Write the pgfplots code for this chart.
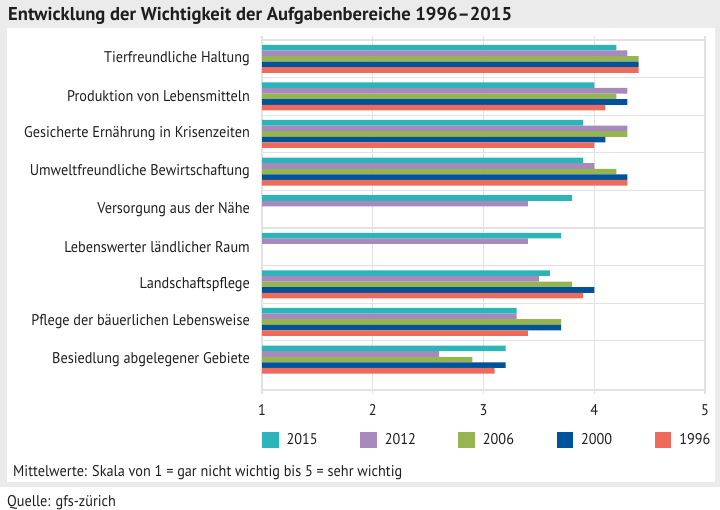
\documentclass[border=0pt]{standalone}
\usepackage{pgfplots}
\pgfplotsset{compat=1.18}
\usepackage{pgfplotstable}
\usepackage{fontspec}
\setmainfont{PT Sans}[FakeStretch=0.92]
\newfontfamily\titlefont{PT Sans Bold}

\definecolor{c2015}{RGB}{44,181,184}
\definecolor{c2012}{RGB}{166,138,190}
\definecolor{c2006}{RGB}{150,181,80}
\definecolor{c2000}{RGB}{0,82,155}
\definecolor{c1996}{RGB}{238,106,90}
\definecolor{bggray}{RGB}{235,235,235}
\definecolor{gridgray}{RGB}{226,226,226}
\definecolor{txt}{RGB}{30,30,30}

\newcommand\lab{\fontsize{15.5bp}{18bp}\selectfont}

% mean importance per task, 0 = top row
\pgfplotstableread{
idx v2015 v2012 v2006 v2000 v1996
0   4.2   4.3   4.4   4.4   4.4
1   4.0   4.3   4.2   4.3   4.1
2   3.9   4.3   4.3   4.1   4.0
3   3.9   4.0   4.2   4.3   4.3
4   3.8   3.4   nan   nan   nan
5   3.7   3.4   nan   nan   nan
6   3.6   3.5   3.8   4.0   3.9
7   3.3   3.3   3.7   3.7   3.4
8   3.2   2.6   2.9   3.2   3.1
}\werte

\begin{document}
\begin{tikzpicture}
\useasboundingbox (0,0) rectangle (720bp,-510bp);
\fill[white] (0,0) rectangle (720bp,-510bp);
\fill[bggray] (0,0) rectangle (720bp,-487bp);
\fill[white] (7bp,-28bp) rectangle (715bp,-482bp);
\node[anchor=base west, inner sep=0, text=txt, font=\fontsize{18.6bp}{20bp}\selectfont\titlefont]
  at (8bp,-20bp) {Entwicklung der Wichtigkeit der Aufgabenbereiche 1996–2015};
\node[anchor=base west, inner sep=0, text=txt, font=\lab]
  at (13bp,-476bp) {Mittelwerte: Skala von 1 = gar nicht wichtig bis 5 = sehr wichtig};
\node[anchor=base west, inner sep=0, text=txt, font=\lab]
  at (7bp,-506bp) {Quelle: gfs-zürich};

\begin{axis}[
  at={(262bp,-390bp)}, anchor=south west,
  scale only axis, width=443bp, height=350bp,
  xbar, bar width=0.149,
  xmin=1, xmax=5, ymin=-0.5, ymax=8.81,
  y dir=reverse,
  xtick={1,2,3,4,5},
  ytick={0,...,8},
  yticklabels={Tierfreundliche Haltung, Produktion von Lebensmitteln,
    Gesicherte Ernährung in Krisenzeiten, Umweltfreundliche Bewirtschaftung,
    Versorgung aus der Nähe, Lebenswerter ländlicher Raum, Landschaftspflege,
    Pflege der bäuerlichen Lebensweise, Besiedlung abgelegener Gebiete},
  minor ytick={0.5,1.5,...,7.5},
  xmajorgrids, yminorgrids,
  major grid style={draw=gridgray, line width=1.3bp},
  minor grid style={draw=gridgray, line width=1.3bp},
  axis line style={draw=gridgray, line width=1.3bp},
  tick align=outside, major tick length=4bp, minor tick length=0pt,
  xtick style={draw=gridgray, line width=1.3bp},
  ytick style={draw=none},
  /pgf/number format/assume math mode=true,
  tick label style={font=\lab, text=txt},
  yticklabel style={inner sep=0pt, xshift=-8bp},
  xticklabel style={inner sep=0pt, yshift=-10bp},
  legend columns=5,
  legend style={at={(0,-0.1429)}, anchor=west, draw=none, fill=none,
    inner sep=0pt, outer sep=0pt, font=\lab, text=txt,
    /tikz/every odd column/.append style={column sep=6bp},
    /tikz/every even column/.append style={column sep=40.5bp}},
  legend image code/.code={\fill[#1] (0bp,-8.3bp) rectangle (16.6bp,8.3bp);},
]
\addplot[fill=c2015, draw=none, bar shift=-0.298] table[x=v2015, y=idx] {\werte};
\addlegendentry{2015}
\addplot[fill=c2012, draw=none, bar shift=-0.149] table[x=v2012, y=idx] {\werte};
\addlegendentry{2012}
\addplot[fill=c2006, draw=none, bar shift=0] table[x=v2006, y=idx] {\werte};
\addlegendentry{2006}
\addplot[fill=c2000, draw=none, bar shift=0.149] table[x=v2000, y=idx] {\werte};
\addlegendentry{2000}
\addplot[fill=c1996, draw=none, bar shift=0.298] table[x=v1996, y=idx] {\werte};
\addlegendentry{1996}
\end{axis}
\end{tikzpicture}
\end{document}
